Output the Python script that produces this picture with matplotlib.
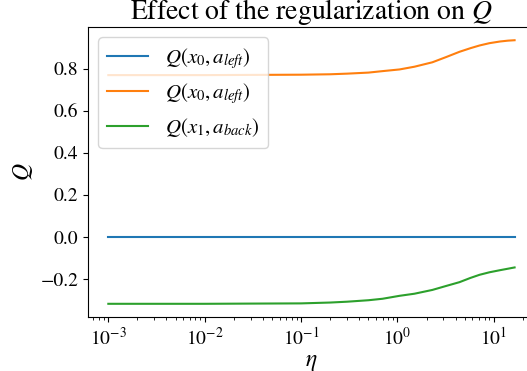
import matplotlib
matplotlib.use('Agg')
import matplotlib.pyplot as plt

plt.rcParams['font.family'] = 'STIXGeneral'
plt.rcParams['mathtext.fontset'] = 'stix'

eta = [0.001, 0.003, 0.01, 0.03, 0.1, 0.2, 0.3, 0.5, 0.7, 1.05, 1.5, 2.3, 3.2, 4.4, 5.7, 7.1, 9.0, 11.6, 14.0, 16.4]
q_x0_left_a = [0.0] * len(eta)
q_x0_left_b = [0.770, 0.770, 0.770, 0.771, 0.772, 0.774, 0.777, 0.782, 0.789, 0.797,
               0.810, 0.831, 0.856, 0.881, 0.898, 0.911, 0.922, 0.930, 0.934, 0.936]
q_x1_back = [-0.318, -0.318, -0.318, -0.317, -0.316, -0.312, -0.308, -0.301, -0.294, -0.280,
             -0.270, -0.252, -0.233, -0.215, -0.195, -0.180, -0.168, -0.158, -0.151, -0.145]

labels = [r'$Q(x_0, a_{left})$', r'$Q(x_0, a_{left})$', r'$Q(x_1, a_{back})$']
yticks = [-0.2, 0.0, 0.2, 0.4, 0.6, 0.8]


def main():
    fig = plt.figure(figsize=(5.27, 3.71), dpi=100)
    ax = fig.add_axes([0.167, 0.1456, 0.848, 0.7815])

    for ys, lab in zip([q_x0_left_a, q_x0_left_b, q_x1_back], labels):
        ax.plot(eta, ys, label=lab, linewidth=1.5)

    ax.set_xscale('log')
    ax.set_yticks(yticks)
    ax.set_title(r'Effect of the regularization on $Q$', fontsize=20, pad=3)
    ax.set_xlabel(r'$\eta$', fontsize=17, labelpad=2)
    ax.set_ylabel(r'$Q$', fontsize=17)
    ax.tick_params(labelsize=14)
    ax.legend(loc='upper left', fontsize=15)

    fig.savefig('out.png', dpi=100)


if __name__ == '__main__':
    main()
